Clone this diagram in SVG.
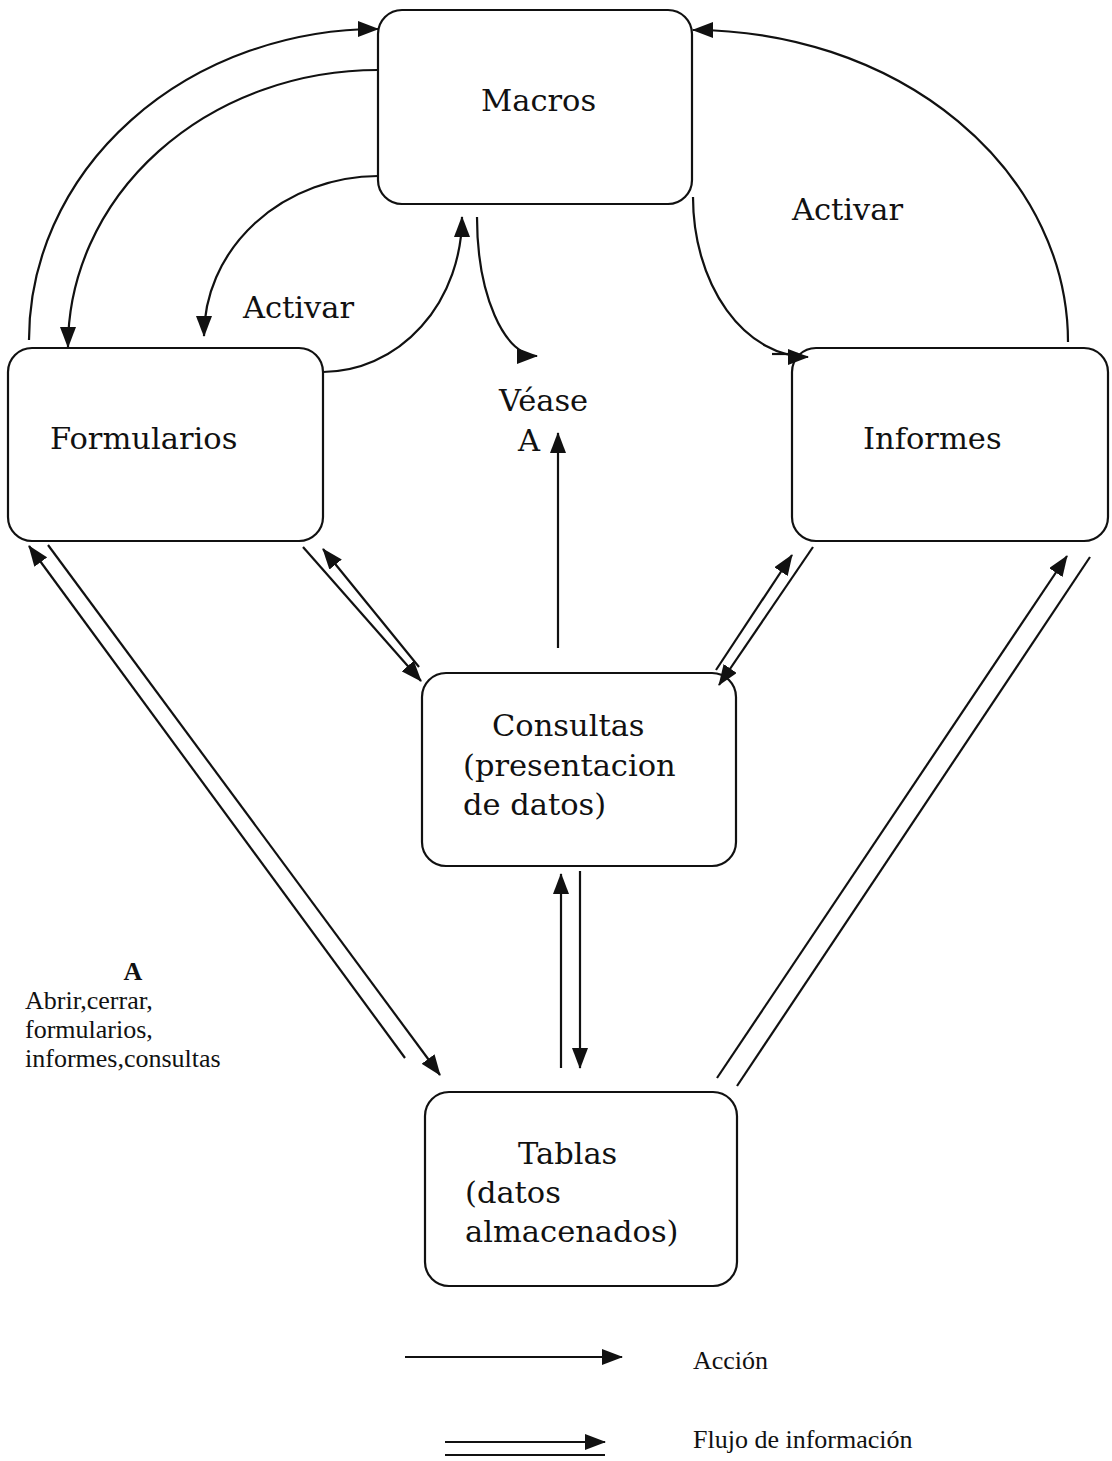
<svg xmlns="http://www.w3.org/2000/svg" width="1112" height="1461" viewBox="0 0 1112 1461">
<style>
.box{fill:none;stroke:#111;stroke-width:2.2}
.ln{fill:none;stroke:#111;stroke-width:2.2}
.t{font-family:"DejaVu Serif",serif;font-size:30.5px;fill:#111}
.n{font-family:"Liberation Serif",serif;font-size:26px;fill:#111}
</style>
<defs>
<marker id="ah" viewBox="0 0 21 16" refX="20" refY="8" markerWidth="21" markerHeight="16" markerUnits="userSpaceOnUse" orient="auto">
<path d="M0,0 L21,8 L0,16 z" fill="#111"/>
</marker>
</defs>
<rect width="1112" height="1461" fill="#fff"/>
<g id="macros"><rect class="box" x="378" y="10" width="314" height="194" rx="24"/><text class="t" x="481" y="111">Macros</text></g>
<g id="formularios"><rect class="box" x="8" y="348" width="315" height="193" rx="24"/><text class="t" x="50" y="449">Formularios</text></g>
<g id="informes"><rect class="box" x="792" y="348" width="316" height="193" rx="24"/><text class="t" x="863" y="449">Informes</text></g>
<g id="consultas"><rect class="box" x="422" y="673" width="314" height="193" rx="24"/><text class="t" x="492" y="736">Consultas</text><text class="t" x="463" y="776">(presentacion</text><text class="t" x="463" y="815">de datos)</text></g>
<g id="tablas"><rect class="box" x="425" y="1092" width="312" height="194" rx="24"/><text class="t" x="518" y="1164">Tablas</text><text class="t" x="465" y="1203">(datos</text><text class="t" x="465" y="1242">almacenados)</text></g>
<g id="labels">
<text class="t" x="243" y="318">Activar</text>
<text class="t" x="792" y="220">Activar</text>
<text class="t" x="499" y="411">Véase</text>
<text class="t" x="518" y="451">A</text>
<text class="n" x="133" y="980" font-weight="bold" text-anchor="middle">A</text>
<text class="n" x="25" y="1009">Abrir,cerrar,</text>
<text class="n" x="25" y="1038">formularios,</text>
<text class="n" x="25" y="1067">informes,consultas</text>
</g>
<g id="connectors">
<path class="ln" d="M29,340 A349,311 0 0 1 378,29" marker-end="url(#ah)"/>
<path class="ln" d="M378,70 A310,277 0 0 0 68,347" marker-end="url(#ah)"/>
<path class="ln" d="M378,176 A175,160 0 0 0 204,336" marker-end="url(#ah)"/>
<path class="ln" d="M323,372 A139,155 0 0 0 462,217" marker-end="url(#ah)"/>
<path class="ln" d="M477,217 A60,139 0 0 0 537,356" marker-end="url(#ah)"/>
<path class="ln" d="M693,197 A115,160 0 0 0 808,357" marker-end="url(#ah)"/>
<line class="ln" x1="772" y1="354" x2="798" y2="354"/>
<path class="ln" d="M1068,342 A375,312 0 0 0 693,30" marker-end="url(#ah)"/>
<line class="ln" x1="558" y1="648" x2="558" y2="433" marker-end="url(#ah)"/>
<line class="ln" x1="303" y1="547" x2="421" y2="681" marker-end="url(#ah)"/>
<line class="ln" x1="419" y1="667" x2="323" y2="549" marker-end="url(#ah)"/>
<line class="ln" x1="716" y1="670" x2="792" y2="555" marker-end="url(#ah)"/>
<line class="ln" x1="813" y1="547" x2="719" y2="685" marker-end="url(#ah)"/>
<line class="ln" x1="48" y1="545" x2="440" y2="1075" marker-end="url(#ah)"/>
<line class="ln" x1="405" y1="1058" x2="29" y2="546" marker-end="url(#ah)"/>
<line class="ln" x1="717" y1="1078" x2="1067" y2="556" marker-end="url(#ah)"/>
<line class="ln" x1="737" y1="1086" x2="1090" y2="557"/>
<line class="ln" x1="561" y1="1068" x2="561" y2="874" marker-end="url(#ah)"/>
<line class="ln" x1="580" y1="871" x2="580" y2="1068" marker-end="url(#ah)"/>
</g>
<g id="legend">
<line class="ln" x1="405" y1="1357" x2="622" y2="1357" marker-end="url(#ah)"/>
<text class="n" x="693" y="1369">Acción</text>
<line class="ln" x1="445" y1="1442" x2="605" y2="1442" marker-end="url(#ah)"/>
<line class="ln" x1="445" y1="1455" x2="605" y2="1455"/>
<text class="n" x="693" y="1448">Flujo de información</text>
</g>
</svg>
